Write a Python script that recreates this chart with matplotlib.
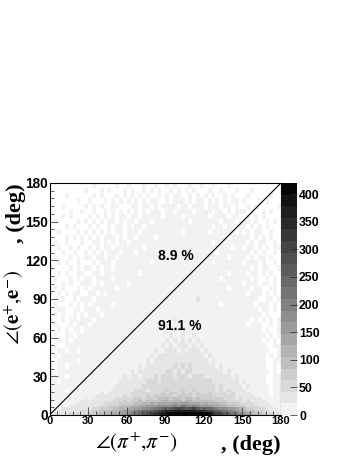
import numpy as np
import matplotlib
matplotlib.use("Agg")
import matplotlib.pyplot as plt
from matplotlib.colors import BoundaryNorm, ListedColormap

W, H = 357, 462
plt.rcParams['mathtext.fontset'] = 'stix'
SANS = 'Liberation Sans'
SERIF = 'Liberation Serif'

# y-bin edges of the rows below (degrees)
y_edges = [0,2,4,6,8,10,12,14,16,18,20,24,28,32,36,40,44,48,52,56,60,64,
           68,72,76,80,84,88,92,96,100,104,108,112,116,120,124,128,132,136,140,
           144,148,152,156,160,164,168,172,176,180]
x_step = 3
n_levels = 20
level_step = 21.0
x_ticks = [0,30,60,90,120,150,180]
y_ticks = [0,30,60,90,120,150,180]
cbar_ticks = [0,50,100,150,200,250,300,350,400]
label_upper = "8.9 %"
label_lower = "91.1 %"

# one string per y-bin, bottom first; 60 columns of 3 deg;
# each char is the grey band ('.' = empty bin)
rows = [
 "1111122222 3344556677 89abcdefgh ijjjjjjjjj jifedcba98 7654432211",
 "0011111122 2334445567 789abbcdef gghhhhhhgg fedcba9876 5443322110",
 "0001111111 1223334455 6677889aab bcdedcdecb bba9887765 4332221100",
 "0000011111 1112233344 4556677788 8898a98987 7766554433 3222111100",
 "0000000111 1111222233 3344556566 6676776665 6555443332 2221111000",
 "0000000011 1111112223 2334344445 5455455444 4443332222 1211110000",
 "0000000001 0111111222 2233233344 4344344343 3333322212 1111100000",
 "0000000000 0011111112 1222232333 3323333233 3322222211 1110000.00",
 "0000000000 0001011111 1222222223 2332323232 2322221211 1100000.00",
 "0000.00000 0000001111 1122212222 3222322322 2221212111 1000000.00",
 "0000000000 0000000111 1111222222 2222222222 2221211111 0100000.00",
 "00.0000000 0000000011 1111122212 2222222222 2211111110 100000..00",
 "0000.00000 0000000001 0110111212 2212221222 1111111010 000000..00",
 "0.00000000 0000000000 0101111111 2212122111 1111101000 0000000.0.",
 "0.00.00000 0000000000 0001011111 1121212111 1110100000 000000..0.",
 "..00000.00 0000000000 0000010111 1111111111 1010000000 000000..00",
 ".0.0000000 0000000000 0000001011 1111111111 0100000000 000000.0.0",
 "0.00.00.00 0000000000 0000000100 1110101110 1000000000 0000000..0",
 ".0..000000 0000000000 0000000001 0101110101 0000000000 000000..00",
 "..0.0.0000 0000000000 0000000000 1010101010 0000000000 00000.0.0.",
 ".0..00.000 0000000000 0000000000 0100100100 0000000000 000000.0.0",
 "..0.0.00.0 0000000000 0000000000 0000100000 0000000000 00000.0..0",
 ".0...0.000 .000000000 0000000000 0000000000 0000000000 0.000..0.0",
 "0..0.00.00 0.00000000 0000000000 0010000000 0000000000 00.0.0.0.0",
 ".0.0..0.0. 000.000000 0000000000 0000000000 0000000000 00000.0...",
 "..00..00.0 00.0000000 0000000000 0000000000 0000000000 0000.00.0.",
 ".0...0.0.0 .00000.000 0000000000 0000000000 0000.00000 000.000.0.",
 "...0..0.00 0.00000000 0000000000 0000000010 0000000000 0000..00.0",
 "0.0.0.00.. 00.0.00000 0000000000 0000000000 0000000000 0.000.0.0.",
 ".0.0...0.0 .000000.00 0000000000 0000000000 000000.000 00.00..00.",
 "...0.0..00 0.0.000000 .000000000 0000000000 0000000000 .000.00.0.",
 ".0...0.0.0 0.0000.000 0000000000 0000000000 0000.00000 00.0..0.0.",
 "..0.0..00. .00.000000 000.000000 0000000000 000000.000 0.00.0.0..",
 "0....0.0.0 0.0.00.000 0000000000 0000000000 0000000000 00.0.00..0",
 "..0.0..0.. .0.000.000 000000.000 0000000000 00.0000000 .000.0..0.",
 ".0...0.0.0 0.00.00.00 0000000000 0000000000 000000.000 0.0.00.0..",
 "...0..0..0 .0.0.000.0 00.0000000 0000000000 000.000000 00.0.0..0.",
 "..0..0.0.. 0.0.00.000 0000.00000 0000000000 0000000.00 .00.0.0.00",
 ".0..0...0. .00.0.0.00 .000000000 0000000000 00.0000000 0.0.00..0.",
 "....0.0.0. 0.0.000.0. 00.0000.00 0000000000 000000.000 00.0.0.0..",
 "..0....0.0 .0.0.0.00. 000.000000 0000.00000 0.000000.0 .0.00..0..",
 "....0.0... 0.0..0.00. 0.00.00000 0000000000 00.00.0000 0.0.0.0...",
 ".0.....0.0 .0.0.00.0. 00.000.000 000000.000 0000.000.0 00.0..0.0.",
 "...0.0.... 0.0.0.0.00 .00.00000. 0000.00000 0.0000.00. .0.0.0....",
 ".....0..0. .0..0.0.0. 0.0.0.000. 00.0000.00 00.00.0.00 0.0..0.0..",
 "...0.....0 .0.0..00.. .00.00.0.0 000.00.000 .000.00.0. .0.0.....0",
 ".......0.. 0...0.0.0. 0.0.0.00.. 0.000.0.00 .0.0.0.00. 0...0.0...",
 "....0..... .0.0...0.0 .0.0.0..0. 0.00..0.0. 0.0..0.0.. .0.....0..",
 ".........0 ...0.0...0 .0..0.0.0. .0.0.0.0.. .0..0...0. ..0.......",
 ".......... .0.....0.. 0...0..0.. 0.0...0..0 ..0...0... ..........",
]

bins = []
for r in rows:
    s = r.replace(' ', '').ljust(60, '.')[:60]
    bins.append([np.nan if c == '.' else (int(c, 20) + 0.5) * level_step for c in s])
counts = np.array(bins)
x_edges = np.arange(counts.shape[1] + 1) * x_step

greys = np.linspace(0.95, 0.02, n_levels)
cmap = ListedColormap([(g, g, g) for g in greys])
cmap.set_bad('white')
bounds = np.arange(n_levels + 1) * level_step
norm = BoundaryNorm(bounds, n_levels)

fig = plt.figure(figsize=(W / 100, H / 100), dpi=100)
x0, x1, ytop, ybot = 49.5, 281.0, 183.0, 415.0
ax = fig.add_axes([x0 / W, 1 - ybot / H, (x1 - x0) / W, (ybot - ytop) / H])
mesh = ax.pcolormesh(x_edges, y_edges, np.ma.masked_invalid(counts), cmap=cmap, norm=norm, linewidth=0)
ax.set_xlim(0, 180)
ax.set_ylim(0, 180)
ax.plot([0, 180], [0, 180], color='black', lw=0.8)
ax.text(84.5, 123, label_upper, fontfamily=SANS, fontweight='bold', fontsize=10, va='center', ha='left')
ax.text(84.5, 69, label_lower, fontfamily=SANS, fontweight='bold', fontsize=10, va='center', ha='left')

ax.set_xticks(x_ticks)
ax.set_yticks(y_ticks)
ax.set_xticks(np.arange(0, 181, 6), minor=True)
ax.set_yticks(np.arange(0, 181, 6), minor=True)
ax.tick_params(which='major', direction='in', length=5.5, width=0.5, color='#222222')
ax.tick_params(which='minor', direction='in', length=2.7, width=0.5, color='#222222')
for lab in ax.get_xticklabels() + ax.get_yticklabels():
    lab.set_fontfamily(SANS)
    lab.set_fontweight('bold')
ax.tick_params(axis='x', which='major', labelsize=8, pad=1)
ax.tick_params(axis='y', which='major', labelsize=9.8, pad=1)
for s in ax.spines.values():
    s.set_linewidth(0.8)

cax = fig.add_axes([x1 / W, 1 - ybot / H, 16 / W, (ybot - ytop) / H])
cb = fig.colorbar(mesh, cax=cax, ticks=cbar_ticks, spacing='proportional', drawedges=False)
cb.outline.set_visible(False)
cb.minorticks_off()
cax.tick_params(axis='y', direction='in', length=5, width=0.5, pad=1.5, labelsize=8.8, color='#222222')
for lab in cax.get_yticklabels():
    lab.set_fontfamily(SANS)
    lab.set_fontweight('bold')

px = lambda x, y: (x / W, 1 - y / H)
fig.text(*px(177, 449), r"$\angle(\pi^{+}{,}\pi^{-})$", fontsize=15.5, ha='right', va='baseline')
fig.text(*px(281, 450), ", (deg)", fontfamily=SERIF, fontweight='bold', fontsize=16, ha='right', va='baseline')
fig.text(*px(20, 345), r"$\angle(\mathbf{e}^{+}{,}\mathbf{e}^{-})$", fontsize=15, rotation=90,
         ha='left', va='baseline', rotation_mode='anchor')
fig.text(*px(21, 183), ", (deg)", fontfamily=SERIF, fontweight='bold', fontsize=16, rotation=90,
         ha='right', va='baseline', rotation_mode='anchor')

fig.savefig('out.png', dpi=100)
